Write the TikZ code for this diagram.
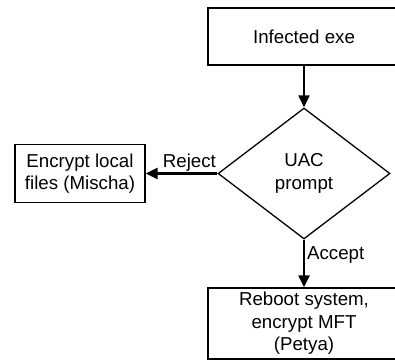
\documentclass[tikz,border=0pt]{standalone}
\usepackage{fontspec}
\setmainfont{Liberation Sans}
\usetikzlibrary{shapes.geometric}
\usetikzlibrary{arrows.meta}

\tikzset{
  stepbox/.style={draw,rectangle,line width=1.3bp,minimum width=192bp,align=center,inner sep=0pt},
  decision/.style={draw,diamond,line width=1.3bp,minimum width=172bp,minimum height=131bp,align=center,inner sep=0pt},
  flow/.style={line width=2.2bp,-{Triangle[length=12bp,width=11bp]}},
}

\begin{document}
\begin{tikzpicture}[font=\fontsize{18.7bp}{22.5bp}\selectfont,line join=miter]
%%
  \useasboundingbox (0bp,0bp) rectangle (395bp,360bp);
  \node (exe) at (304.0bp,323.5bp) [stepbox,minimum height=57bp] {Infected exe};
  \node (uac) at (304.0bp,186.5bp) [decision] {UAC\\prompt};
  \node (mischa) at (80.0bp,186.5bp) [stepbox,minimum width=130bp,minimum height=58bp] {Encrypt local\\files (Mischa)};
  \node (petya) at (304.0bp,36.5bp) [stepbox,minimum height=71bp] {Reboot system,\\encrypt MFT\\(Petya)};
  \draw [flow] (exe) -- (uac);
  \draw [flow] (uac.west) -- node[above,pos=0.39,inner sep=1.5bp] {Reject} (mischa.east);
  \draw [flow] (uac.south) -- node[right,pos=0.33,inner sep=2bp] {Accept} (petya.north);
%
\end{tikzpicture}
\end{document}
